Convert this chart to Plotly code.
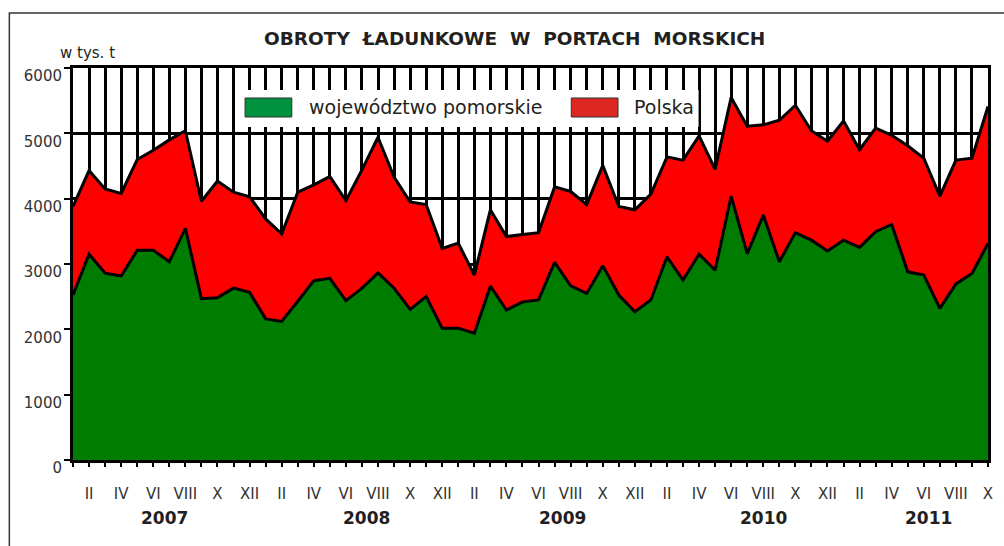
import plotly.graph_objects as go

# ---- data (thousand tonnes), Jan 2007 - Oct 2011 ----
years = ["2007", "2008", "2009", "2010", "2011"]
year_label_pos = [5.7, 18.3, 30.5, 43.0, 53.3]
roman = ["I", "II", "III", "IV", "V", "VI", "VII", "VIII", "IX", "X", "XI", "XII"]

polska = [3880, 4430, 4150, 4080, 4600, 4740, 4900, 5040, 3960, 4270, 4100, 4030,
          3690, 3460, 4100, 4210, 4340, 3970, 4440, 4940, 4330, 3950, 3910, 3240,
          3320, 2830, 3830, 3420, 3450, 3480, 4180, 4110, 3910, 4510, 3880, 3830,
          4070, 4640, 4590, 4960, 4450, 5550, 5110, 5130, 5200, 5430, 5040, 4880,
          5190, 4750, 5080, 4970, 4810, 4620, 4040, 4590, 4620, 5410]
pomorskie = [2525, 3150, 2860, 2815, 3210, 3210, 3035, 3545, 2470, 2485, 2630, 2565,
             2160, 2120, 2430, 2745, 2780, 2440, 2630, 2865, 2630, 2305, 2500, 2015,
             2015, 1940, 2660, 2295, 2420, 2450, 3025, 2665, 2550, 2975, 2525, 2270,
             2450, 3110, 2755, 3150, 2905, 4040, 3160, 3750, 3035, 3480, 3365, 3200,
             3365, 3255, 3495, 3605, 2880, 2830, 2320, 2695, 2855, 3315]
y_ticks = [0, 1000, 2000, 3000, 4000, 5000, 6000]

n = len(polska)
x = list(range(n))
month_names = [roman[i % 12] for i in x]
tick_text = [m if (i % 12) % 2 == 1 else "" for i, m in enumerate(month_names)]

# layout geometry (pixels)
W, H = 1004, 546
L, R, T, B = 73, 11, 68, 86
PW, PH = W - L - R, H - T - B


def px(v):
    return (v - L) / PW


def py(v):
    return (H - B - v) / PH


FONT = "DejaVu Sans"
TXT = "#231f20"

fig = go.Figure()
fig.add_trace(go.Scatter(x=x, y=polska, mode="lines", fill="tozeroy",
                         fillcolor="#ff0000", line=dict(color="black", width=3),
                         name="Polska", showlegend=False, hoverinfo="skip"))
fig.add_trace(go.Scatter(x=x, y=pomorskie, mode="lines", fill="tozeroy",
                         fillcolor="#007c00", line=dict(color="black", width=3),
                         name="województwo pomorskie", showlegend=False, hoverinfo="skip"))

shapes = [
    # outer frame
    dict(type="rect", xref="paper", yref="paper", x0=px(9), x1=px(1012), y0=py(556), y1=py(13),
         line=dict(color="#333333", width=1.5), fillcolor="rgba(0,0,0,0)", layer="below"),
    # legend box
    dict(type="rect", xref="paper", yref="paper", x0=px(243), x1=px(702), y0=py(127), y1=py(90),
         line=dict(width=0), fillcolor="white", layer="above"),
    dict(type="rect", xref="paper", yref="paper", x0=px(246), x1=px(293), y0=py(117), y1=py(98),
         line=dict(color="#333333", width=1), fillcolor="#00923f", layer="above"),
    dict(type="rect", xref="paper", yref="paper", x0=px(574), x1=px(621), y0=py(117), y1=py(98),
         line=dict(color="#333333", width=1), fillcolor="#dc2820", layer="above"),
]

annotations = [
    dict(text="<b>OBROTY  ŁADUNKOWE  W  PORTACH  MORSKICH</b>", xref="paper", yref="paper",
         x=px(516.5), y=py(38), xanchor="center", yanchor="middle", showarrow=False,
         font=dict(family=FONT, size=18.5, color=TXT)),
    dict(text="w tys. t", xref="paper", yref="paper", x=px(58), y=py(53),
         xanchor="left", yanchor="middle", showarrow=False,
         font=dict(family=FONT, size=15, color=TXT)),
    dict(text="województwo pomorskie", xref="paper", yref="paper", x=px(308), y=py(107),
         xanchor="left", yanchor="middle", showarrow=False,
         font=dict(family=FONT, size=19, color=TXT)),
    dict(text="Polska", xref="paper", yref="paper", x=px(635), y=py(107),
         xanchor="left", yanchor="middle", showarrow=False,
         font=dict(family=FONT, size=19, color=TXT)),
]
for yr, pos in zip(years, year_label_pos):
    annotations.append(dict(text=f"<b>{yr}</b>", x=pos, xref="x", yref="paper", y=0,
                            yshift=-58, xanchor="center", yanchor="middle", showarrow=False,
                            font=dict(family=FONT, size=17, color=TXT)))

fig.update_layout(
    width=W, height=H,
    margin=dict(l=L, r=R, t=T, b=B),
    paper_bgcolor="white", plot_bgcolor="white",
    shapes=shapes, annotations=annotations,
    showlegend=False,
)
fig.update_xaxes(
    range=[0, n - 1], tickmode="array", tickvals=x, ticktext=tick_text,
    showgrid=True, gridcolor="black", gridwidth=3, zeroline=False,
    showline=True, linecolor="black", linewidth=3, mirror=True,
    ticks="outside", ticklen=4, tickwidth=2, tickcolor="black",
    ticklabelstandoff=14,
    tickfont=dict(family=FONT, size=15, color="#333333"),
)
fig.update_yaxes(
    range=[0, 6000], tickmode="array", tickvals=y_ticks,
    showgrid=True, gridcolor="black", gridwidth=3, zeroline=False,
    showline=True, linecolor="black", linewidth=3, mirror=True,
    ticks="outside", ticklen=6, tickwidth=2, tickcolor="black",
    ticklabelshift=8, ticklabelstandoff=-1,
    tickfont=dict(family=FONT, size=15, color="#333333"),
)

fig.write_html("out.html", config={"displayModeBar": False},
               post_script="document.body.style.margin='0';")
